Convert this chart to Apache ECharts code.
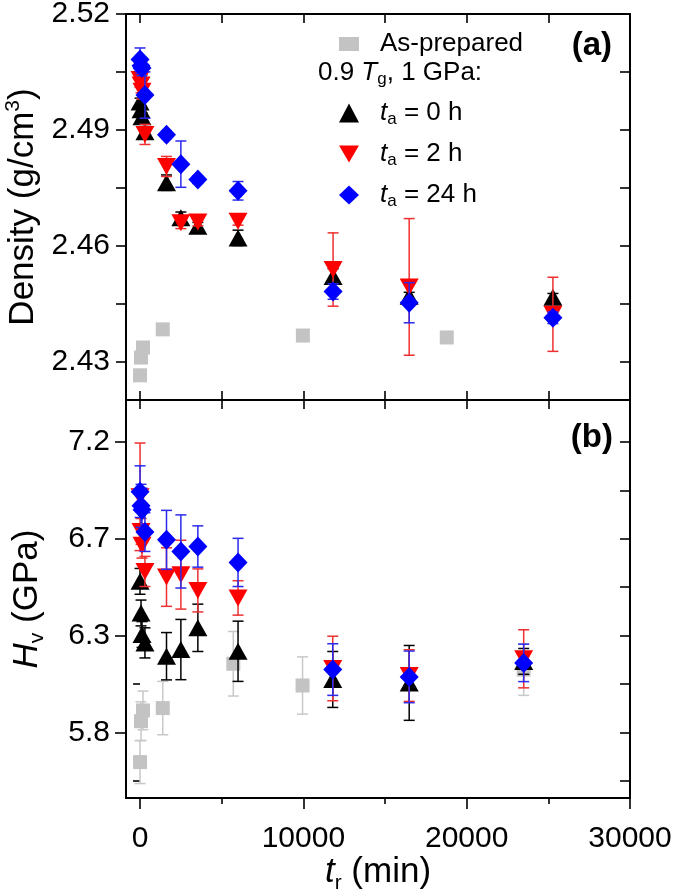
<!DOCTYPE html>
<html><head><meta charset="utf-8">
<script src="https://cdn.jsdelivr.net/npm/echarts@6/dist/echarts.min.js"></script>
<style>html,body{margin:0;padding:0;background:#fff}#c{width:675px;height:891px}</style>
</head><body><div id="c"></div>
<script>
// ---------- tick labels ----------
const xTickAll = [0, 5000, 10000, 15000, 20000, 25000, 30000];
const xTickMajor = [0, 10000, 20000, 30000];
const xTickMinor = [5000, 15000, 25000];
const densTicks = [2.43, 2.46, 2.49, 2.52];
const densTicksAll = [2.43, 2.445, 2.46, 2.475, 2.49, 2.505, 2.52];
const hardTicks = [5.85, 6.3, 6.75, 7.2];
const hardTickLabels = ['5.8', '6.3', '6.7', '7.2'];
const hardTicksMinor = [5.625, 6.075, 6.525, 6.975];
const hardTicksAll = [5.625, 5.85, 6.075, 6.3, 6.525, 6.75, 6.975, 7.2];

// ---------- panel (a): density ----------
const densAsPrepTime = [0, 60, 180, 1390, 9970, 18780];
const densAsPrep = [2.4264, 2.4310, 2.4336, 2.4383, 2.4367, 2.4362];

const densTime = [0, 60, 120, 300, 1620, 2500, 3540, 6000, 11820, 16480, 25280];
const dens0h = [2.4972, 2.4952, 2.4934, 2.4895, 2.4763, 2.4672, 2.4650, 2.4620, 2.4520, 2.4469, 2.4466];
const dens0hErr = [0.001, 0.001, 0.001, 0.001, 0.002, 0.0015, 0.001, 0.002, 0.002, 0.001, 0.001];
const dens2h = [2.5030, 2.5016, 2.5000, 2.4888, 2.4805, 2.4659, 2.4661, 2.4663, 2.4538, 2.4493, 2.4422];
const dens2hErr = [0.002, 0.002, 0.002, 0.0026, 0.0026, 0.0015, 0.001, 0.001, 0.0095, 0.0177, 0.0096];
const dens24h = [2.5082, 2.5066, 2.5060, 2.4990, 2.4887, 2.4811, 2.4771, 2.4742, 2.4481, 2.4452, 2.4413];
const dens24hErr = [0.003, 0.002, 0.002, 0.006, 0.001, 0.006, 0.001, 0.0024, 0.002, 0.0052, 0.0015];

// ---------- panel (b): hardness ----------
const hardAsPrepTime = [0, 60, 180, 1390, 5710, 9950, 23490];
const hardAsPrep = [5.712, 5.902, 5.952, 5.963, 6.169, 6.068, 6.142];
const hardAsPrepErr = [0.10, 0.09, 0.09, 0.124, 0.15, 0.133, 0.12];

const hardTime = [0, 60, 120, 300, 1620, 2500, 3540, 6000, 11800, 16480, 23490];
const hard0h = [6.552, 6.405, 6.305, 6.266, 6.204, 6.235, 6.336, 6.227, 6.096, 6.080, 6.180];
const hard0hErr = [0.06, 0.06, 0.06, 0.07, 0.11, 0.14, 0.11, 0.14, 0.13, 0.174, 0.06];
const hard2h = [6.945, 6.784, 6.720, 6.598, 6.572, 6.583, 6.510, 6.475, 6.147, 6.114, 6.192];
const hard2hErr = [0.25, 0.06, 0.06, 0.07, 0.136, 0.16, 0.10, 0.08, 0.15, 0.12, 0.135];
const hard24h = [6.969, 6.903, 6.885, 6.781, 6.745, 6.691, 6.714, 6.640, 6.142, 6.108, 6.173];
const hard24hErr = [0.12, 0.10, 0.10, 0.09, 0.137, 0.17, 0.096, 0.112, 0.12, 0.12, 0.087];

const seriesNames = ['As-prepared', 't_a = 0 h', 't_a = 2 h', 't_a = 24 h'];

// ---------- build ----------
const FONT = 'Liberation Sans';
const LINE = { color: '#000', width: 2 };
const X_MIN = -860, X_MAX = 30000;
const D_MIN = 2.42, D_MAX = 2.52;
const H_MIN = 5.545, H_MAX = 7.395;
const TICK_FS = 30;

const DOWN_TRI = 'path://M0,0L20,0L10,17Z';
const COL = { gray: '#c3c3c3', black: '#000000', red: '#ff0000', blue: '#0000ff' };
const ERRCOL = { gray: '#c8c8c8', black: '#000000', red: '#ee3030', blue: '#2a2aee' };

function zip(t, v, e) { return t.map((x, i) => e ? [x, v[i], e[i]] : [x, v[i]]); }

function errSeries(grid, data, color, z) {
  return {
    type: 'custom', xAxisIndex: grid === 0 ? 0 : 2, yAxisIndex: grid === 0 ? 0 : 2,
    z: z, silent: true, data: data, encode: { x: 0, y: 1 },
    renderItem: function (params, api) {
      const x = api.value(0), y = api.value(1), e = api.value(2);
      const p1 = api.coord([x, y + e]), p2 = api.coord([x, y - e]);
      const w = 5.5, st = { stroke: color, lineWidth: 1.5 };
      return { type: 'group', children: [
        { type: 'line', shape: { x1: p1[0], y1: p1[1], x2: p2[0], y2: p2[1] }, style: st },
        { type: 'line', shape: { x1: p1[0] - w, y1: p1[1], x2: p1[0] + w, y2: p1[1] }, style: st },
        { type: 'line', shape: { x1: p2[0] - w, y1: p2[1], x2: p2[0] + w, y2: p2[1] }, style: st }
      ]};
    }
  };
}
function scat(grid, name, data, color, symbol, size, z) {
  return {
    type: 'scatter', name: name, xAxisIndex: grid === 0 ? 0 : 2, yAxisIndex: grid === 0 ? 0 : 2,
    data: data, symbol: symbol, symbolSize: size, z: z,
    itemStyle: { color: color, opacity: 1 }, emphasis: { disabled: true }
  };
}

const richName = {
  it: { fontFamily: FONT, fontSize: 35, fontStyle: 'italic', color: '#000', lineHeight: 42 },
  n: { fontFamily: FONT, fontSize: 35, color: '#000', lineHeight: 42 },
  sub: { fontFamily: FONT, fontSize: 21, color: '#000', verticalAlign: 'bottom', lineHeight: 21 },
  sup: { fontFamily: FONT, fontSize: 21, color: '#000', verticalAlign: 'top', lineHeight: 21 }
};

function baseAxis(extra) {
  return Object.assign({
    type: 'value', splitLine: { show: false },
    axisLine: { show: true, onZero: false, lineStyle: LINE },
    axisTick: { show: true, lineStyle: { color: '#000', width: 1.6 } },
    axisLabel: { show: false }
  }, extra);
}

const xAxes = [
  baseAxis({ gridIndex: 0, position: 'bottom', min: X_MIN, max: X_MAX,
    axisTick: { show: true, inside: true, length: 9, customValues: xTickAll, lineStyle: { color: '#000', width: 1.6 } } }),
  baseAxis({ gridIndex: 0, position: 'top', min: X_MIN, max: X_MAX,
    axisTick: { show: true, inside: true, length: 9, customValues: xTickAll, lineStyle: { color: '#000', width: 1.6 } } }),
  baseAxis({ gridIndex: 1, position: 'bottom', min: X_MIN, max: X_MAX,
    axisTick: { show: true, inside: false, length: 11, customValues: xTickMajor, lineStyle: { color: '#000', width: 1.6 } },
    axisLabel: { show: true, customValues: xTickMajor, fontFamily: FONT, fontSize: TICK_FS, color: '#000', margin: 26,
      formatter: v => String(Math.round(v)) },
    name: '{it|t}{sub|r}{n| (min)}', nameLocation: 'middle', nameGap: 52,
    nameTextStyle: { rich: richName } }),
  baseAxis({ gridIndex: 1, position: 'bottom', min: X_MIN, max: X_MAX,
    axisLine: { show: false },
    axisTick: { show: true, inside: false, length: 6, customValues: xTickMinor, lineStyle: { color: '#000', width: 1.6 } } }),
  baseAxis({ gridIndex: 1, position: 'top', min: X_MIN, max: X_MAX,
    axisTick: { show: true, inside: true, length: 9, customValues: xTickAll, lineStyle: { color: '#000', width: 1.6 } } })
];

const yAxes = [
  baseAxis({ gridIndex: 0, position: 'left', min: D_MIN, max: D_MAX,
    axisTick: { show: true, inside: false, length: 10, customValues: densTicksAll, lineStyle: { color: '#000', width: 1.6 } },
    axisLabel: { show: true, customValues: densTicks, fontFamily: FONT, fontSize: TICK_FS, color: '#000', margin: 16,
      formatter: v => v.toFixed(2) },
    name: '{n|Density (g/cm}{sup|3}{n|)}', nameLocation: 'middle', nameGap: 78, nameRotate: 90,
    nameTextStyle: { rich: richName } }),
  baseAxis({ gridIndex: 0, position: 'right', min: D_MIN, max: D_MAX,
    axisTick: { show: true, inside: true, length: 10, customValues: densTicksAll, lineStyle: { color: '#000', width: 1.6 } } }),
  baseAxis({ gridIndex: 1, position: 'left', min: H_MIN, max: H_MAX,
    axisTick: { show: true, inside: false, length: 11, customValues: hardTicks, lineStyle: { color: '#000', width: 1.6 } },
    axisLabel: { show: true, customValues: hardTicks, fontFamily: FONT, fontSize: TICK_FS, color: '#000', margin: 16,
      formatter: v => { let b = 0; hardTicks.forEach((t, i) => { if (Math.abs(t - v) < Math.abs(hardTicks[b] - v)) b = i; }); return hardTickLabels[b]; } },
    name: '{it|H}{sub|v}{n| (GPa)}', nameLocation: 'middle', nameGap: 78, nameRotate: 90,
    nameTextStyle: { rich: richName } }),
  baseAxis({ gridIndex: 1, position: 'left', min: H_MIN, max: H_MAX,
    axisLine: { show: false },
    axisTick: { show: true, inside: false, length: 7, customValues: hardTicksMinor, lineStyle: { color: '#000', width: 1.6 } } }),
  baseAxis({ gridIndex: 1, position: 'right', min: H_MIN, max: H_MAX,
    axisTick: { show: true, inside: true, length: 10, customValues: hardTicksAll, lineStyle: { color: '#000', width: 1.6 } } })
];

const series = [
  // panel a
  scat(0, seriesNames[0], zip(densAsPrepTime, densAsPrep), COL.gray, 'rect', 14, 2),
  errSeries(0, zip(densTime, dens0h, dens0hErr), ERRCOL.black, 3),
  scat(0, seriesNames[1], zip(densTime, dens0h), COL.black, 'triangle', [19, 17], 4),
  errSeries(0, zip(densTime, dens2h, dens2hErr), ERRCOL.red, 5),
  scat(0, seriesNames[2], zip(densTime, dens2h), COL.red, DOWN_TRI, [19, 17], 6),
  errSeries(0, zip(densTime, dens24h, dens24hErr), ERRCOL.blue, 7),
  scat(0, seriesNames[3], zip(densTime, dens24h), COL.blue, 'diamond', [19, 20], 8),
  // panel b
  errSeries(1, zip(hardAsPrepTime, hardAsPrep, hardAsPrepErr), ERRCOL.gray, 1),
  scat(1, seriesNames[0], zip(hardAsPrepTime, hardAsPrep), COL.gray, 'rect', 14, 2),
  errSeries(1, zip(hardTime, hard0h, hard0hErr), ERRCOL.black, 3),
  scat(1, seriesNames[1], zip(hardTime, hard0h), COL.black, 'triangle', [19, 17], 4),
  errSeries(1, zip(hardTime, hard2h, hard2hErr), ERRCOL.red, 5),
  scat(1, seriesNames[2], zip(hardTime, hard2h), COL.red, DOWN_TRI, [19, 17], 6),
  errSeries(1, zip(hardTime, hard24h, hard24hErr), ERRCOL.blue, 7),
  scat(1, seriesNames[3], zip(hardTime, hard24h), COL.blue, 'diamond', [19, 20], 8)
];

const legendRich = {
  n: { fontFamily: FONT, fontSize: 26, color: '#000', lineHeight: 30 },
  it: { fontFamily: FONT, fontSize: 26, fontStyle: 'italic', color: '#000', lineHeight: 30 },
  sub: { fontFamily: FONT, fontSize: 17, color: '#000', verticalAlign: 'bottom', lineHeight: 17 },
  pad: { width: 16 }
};
function legendFmt(name) {
  if (name.indexOf('t_a') === 0) return '{pad|}{it|t}{sub|a}{n|' + name.slice(3) + '}';
  return '{pad|}{n|' + name + '}';
}

const option = {
  animation: false,
  backgroundColor: '#fff',
  grid: [
    { left: 126, top: 14, width: 504, height: 386, outerBoundsMode: 'none', containLabel: false },
    { left: 126, top: 400, width: 504, height: 398, outerBoundsMode: 'none', containLabel: false }
  ],
  xAxis: xAxes,
  yAxis: yAxes,
  legend: [
    { data: [seriesNames[0]], left: 334, top: 26, orient: 'vertical', itemWidth: 20, itemHeight: 14,
      selectedMode: false, formatter: legendFmt, textStyle: { rich: legendRich } },
    { data: seriesNames.slice(1), left: 334, top: 95, orient: 'vertical', itemWidth: 20, itemHeight: 19, itemGap: 13,
      selectedMode: false, formatter: legendFmt, textStyle: { rich: legendRich } }
  ],
  graphic: [
    { type: 'text', left: 318, top: 60, z: 100,
      style: { text: '{n|0.9 }{it|T}{sub|g}{n|, 1 GPa:}', rich: legendRich } },
    { type: 'text', right: 63, top: 29, z: 100,
      style: { text: '(a)', fontFamily: FONT, fontSize: 33, fontWeight: 'bold', fill: '#000' } },
    { type: 'text', right: 62, top: 421, z: 100,
      style: { text: '(b)', fontFamily: FONT, fontSize: 33, fontWeight: 'bold', fill: '#000' } }
  ],
  series: series
};
const chart = echarts.init(document.getElementById('c'));
chart.setOption(option);
</script></body></html>
